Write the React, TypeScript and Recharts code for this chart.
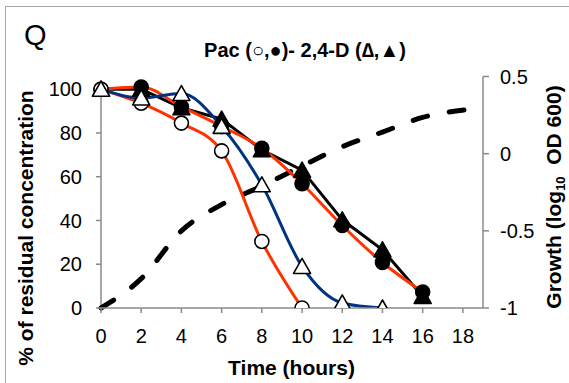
import React from "react";
import { ComposedChart, Line, XAxis, YAxis, ReferenceLine } from "recharts";

// time points (hours); the last one only carries the growth curve
const hours = [0, 2, 4, 6, 8, 10, 12, 14, 16, 18.5];
// % residual concentration
const pacOpen = [100, 93.6, 84.5, 71.8, 30.4, 0, null, null, null, null];
const pacFilled = [100, 101, 92, 83, 73, 56.8, 37.7, 20.8, 7.3, null];
const dOpen = [100, 96, 98, 83, 56.3, 19, 2.3, 0, null, null];
const dFilled = [100, 100, 91.5, 86.3, 72.3, 63, 40.3, 26.6, 5.3, null];
// growth, log10 OD600
const growth = [-1, -0.81, -0.5, -0.33, -0.21, -0.08, 0.045, 0.14, 0.235, 0.29];

const xTicks = [0, 2, 4, 6, 8, 10, 12, 14, 16, 18];
const leftTicks = [0, 20, 40, 60, 80, 100];
const rightTicks = [-1, -0.5, 0, 0.5];

const data = hours.map((t, i) => ({
  t,
  pacOpen: pacOpen[i],
  pacFilled: pacFilled[i],
  dOpen: dOpen[i],
  dFilled: dFilled[i],
  growth: growth[i],
}));

const FONT = '"Liberation Sans", Arial, sans-serif';
const AXIS = "#8a8a8a";

const circleDot = (fill: string) => (p: any) => {
  if (p.cy == null || p.value == null) return <g key={`c${p.index}`} />;
  return (
    <circle key={`c${p.index}`} cx={p.cx} cy={p.cy} r={7} fill={fill} stroke="#000" strokeWidth={1.6} />
  );
};

const triDot = (fill: string) => (p: any) => {
  if (p.cy == null || p.value == null) return <g key={`t${p.index}`} />;
  const { cx, cy } = p;
  return (
    <polygon
      key={`t${p.index}`}
      points={`${cx},${cy - 8} ${cx - 8.5},${cy + 7} ${cx + 8.5},${cy + 7}`}
      fill={fill}
      stroke="#000"
      strokeWidth={1.6}
      strokeLinejoin="round"
    />
  );
};

export default function App() {
  return (
    <div
      style={{
        position: "fixed",
        left: 0,
        top: 0,
        width: 569,
        height: 383,
        overflow: "hidden",
        background: "#fff",
        fontFamily: FONT,
      }}
    >
      <div
        style={{
          position: "absolute",
          left: 5,
          top: 6,
          width: 570,
          height: 380,
          borderLeft: "1.5px solid #a8a8a8",
          borderTop: "1.5px solid #a8a8a8",
        }}
      />
      <ComposedChart
        width={569}
        height={383}
        data={data}
        margin={{ top: 76.5, right: 0, bottom: 0, left: 0 }}
        style={{ position: "absolute", left: 0, top: 0 }}
      >
        <XAxis
          dataKey="t"
          type="number"
          domain={[0, 19]}
          ticks={xTicks}
          height={75}
          tickSize={5}
          tickMargin={16}
          tick={{ fontSize: 20, fill: "#000", fontFamily: FONT }}
          axisLine={{ stroke: AXIS, strokeWidth: 1.5 }}
          tickLine={{ stroke: AXIS, strokeWidth: 1.5 }}
        />
        <YAxis
          yAxisId="left"
          width={101}
          domain={[0, 105.8]}
          ticks={leftTicks}
          allowDataOverflow
          tickSize={5}
          tickMargin={14}
          tick={{ fontSize: 20, fill: "#000", fontFamily: FONT }}
          axisLine={false}
          tickLine={{ stroke: AXIS, strokeWidth: 1.5 }}
        />
        <YAxis
          yAxisId="right"
          orientation="right"
          width={86}
          domain={[-1, 0.5]}
          ticks={rightTicks}
          tickSize={6}
          tickMargin={11}
          tick={{ fontSize: 20, fill: "#000", fontFamily: FONT, textAnchor: "start" }}
          axisLine={{ stroke: AXIS, strokeWidth: 1.5 }}
          tickLine={{ stroke: AXIS, strokeWidth: 1.5 }}
        />
        <ReferenceLine
          yAxisId="left"
          segment={[
            { x: 0, y: 0 },
            { x: 0, y: 100 },
          ]}
          stroke={AXIS}
          strokeWidth={1.5}
        />
        <Line
          yAxisId="right"
          dataKey="growth"
          type="monotone"
          stroke="#000"
          strokeWidth={5}
          strokeDasharray="15 22"
          strokeLinecap="round"
          dot={false}
          isAnimationActive={false}
        />
        <Line
          yAxisId="left"
          dataKey="dFilled"
          type="linear"
          stroke="#000"
          strokeWidth={3}
          dot={triDot("#000")}
          isAnimationActive={false}
        />
        <Line
          yAxisId="left"
          dataKey="pacFilled"
          type="monotone"
          stroke="#ff3300"
          strokeWidth={3}
          dot={circleDot("#000")}
          isAnimationActive={false}
        />
        <Line
          yAxisId="left"
          dataKey="pacOpen"
          type="monotone"
          stroke="#ff3300"
          strokeWidth={3}
          dot={circleDot("#fff")}
          isAnimationActive={false}
        />
        <Line
          yAxisId="left"
          dataKey="dOpen"
          type="monotone"
          stroke="#003380"
          strokeWidth={3}
          dot={triDot("#fff")}
          isAnimationActive={false}
        />
      </ComposedChart>
      <svg
        width={569}
        height={383}
        style={{ position: "absolute", left: 0, top: 0, pointerEvents: "none" }}
        fontFamily={FONT}
      >
        <text x={24} y={45} fontSize={29}>
          Q
        </text>
        <text x={305} y={57} fontSize={20} fontWeight="bold" textAnchor="middle">
          Pac (○,●)- 2,4-D (∆,▲)
        </text>
        <text
          transform="translate(33,228) rotate(-90)"
          fontSize={21}
          fontWeight="bold"
          textAnchor="middle"
        >
          % of residual concentration
        </text>
        <text
          transform="translate(561,197) rotate(-90)"
          fontSize={21}
          fontWeight="bold"
          textAnchor="middle"
        >
          Growth (log
          <tspan fontSize={13} dy={4}>
            10
          </tspan>
          <tspan dy={-4}>{"\u00a0 OD 600)"}</tspan>
        </text>
        <text x={291.5} y={375} fontSize={21} fontWeight="bold" textAnchor="middle">
          Time (hours)
        </text>
      </svg>
    </div>
  );
}
